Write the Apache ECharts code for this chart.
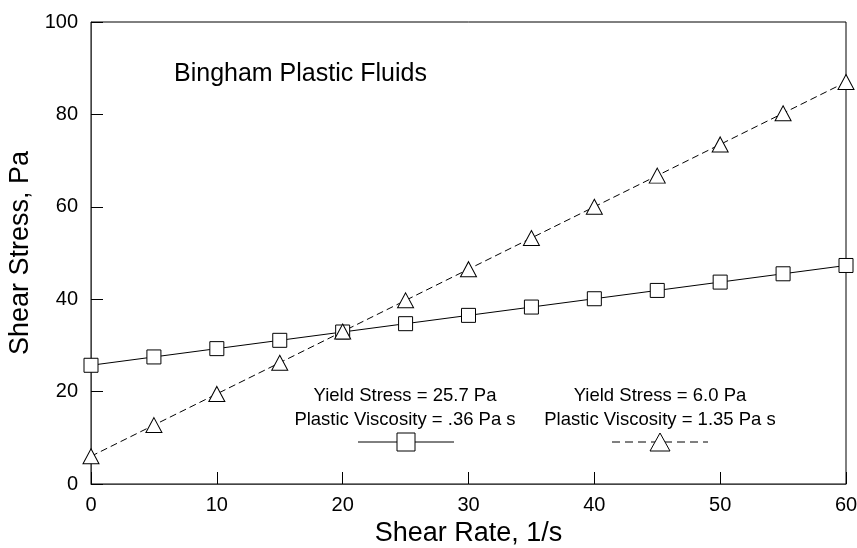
<!DOCTYPE html>
<html><head><meta charset="utf-8">
<script src="https://cdn.jsdelivr.net/npm/echarts@6/dist/echarts.min.js"></script>
<style>html,body{margin:0;padding:0;background:#fff}#c{width:857px;height:548px}</style>
</head><body><div id="c"></div>
<script>
var shearRate = [0, 5, 10, 15, 20, 25, 30, 35, 40, 45, 50, 55, 60];
var stressSquare = [25.7, 27.5, 29.3, 31.1, 32.9, 34.7, 36.5, 38.3, 40.1, 41.9, 43.7, 45.5, 47.3];
var stressTriangle = [6.0, 12.75, 19.5, 26.25, 33.0, 39.75, 46.5, 53.25, 60.0, 66.75, 73.5, 80.25, 87.0];
var chartTitle = 'Bingham Plastic Fluids';
var legend1 = ['Yield Stress = 25.7 Pa', 'Plastic Viscosity = .36 Pa s'];
var legend2 = ['Yield Stress = 6.0 Pa', 'Plastic Viscosity = 1.35 Pa s'];
var xTitle = 'Shear Rate, 1/s';
var yTitle = 'Shear Stress, Pa';

function pairs(xs, ys){ return xs.map(function(x,i){return [x, ys[i]];}); }
var FONT = '"Liberation Sans", Arial, sans-serif';
var triPath = 'path://M0,-1L1,0.732L-1,0.732Z';

var chart = echarts.init(document.getElementById('c'));
chart.setOption({
  animation: false,
  grid: {left: 91, right: 11, top: 22, bottom: 64, outerBoundsMode: 'none', containLabel: false,
         show: true, borderColor: '#000', borderWidth: 1, backgroundColor: 'transparent'},
  xAxis: {
    type: 'value', min: 0, max: 60, interval: 10,
    name: xTitle, nameLocation: 'middle', nameGap: 35,
    nameTextStyle: {fontFamily: FONT, fontSize: 27, color: '#000'},
    axisLine: {show: true, lineStyle: {color: '#444', width: 1}},
    axisTick: {show: true, inside: true, length: 12, lineStyle: {color: '#000'}},
    axisLabel: {fontFamily: FONT, fontSize: 20, color: '#000', margin: 11},
    splitLine: {show: false}
  },
  yAxis: {
    type: 'value', min: 0, max: 100, interval: 20,
    name: yTitle, nameLocation: 'middle', nameGap: 54,
    nameTextStyle: {fontFamily: FONT, fontSize: 27, color: '#000'},
    axisLine: {show: true, lineStyle: {color: '#444', width: 1}},
    axisTick: {show: true, inside: true, length: 12, lineStyle: {color: '#000'}},
    axisLabel: {fontFamily: FONT, fontSize: 20, color: '#000', margin: 13},
    splitLine: {show: false}
  },
  series: [
    {
      type: 'line', data: pairs(shearRate, stressSquare),
      symbol: 'rect', symbolSize: 14, showSymbol: true,
      lineStyle: {color: '#000', width: 1},
      itemStyle: {color: '#fff', borderColor: '#000', borderWidth: 1},
      z: 3
    },
    {
      type: 'line', data: pairs(shearRate, stressTriangle),
      symbol: triPath, symbolSize: [16, 15], showSymbol: true,
      lineStyle: {color: '#000', width: 1, type: [7, 4]},
      itemStyle: {color: '#fff', borderColor: '#000', borderWidth: 1},
      z: 3
    }
  ],
  graphic: [
    {type: 'text', x: 174, y: 74, style: {text: chartTitle, font: '25px ' + FONT, fill: '#000', verticalAlign: 'middle'}},
    {type: 'text', x: 405, y: 396, style: {text: legend1[0], font: '18.5px ' + FONT, fill: '#000', align: 'center', verticalAlign: 'middle'}},
    {type: 'text', x: 405, y: 420, style: {text: legend1[1], font: '18.5px ' + FONT, fill: '#000', align: 'center', verticalAlign: 'middle'}},
    {type: 'line', shape: {x1: 358, y1: 442, x2: 454, y2: 442}, style: {stroke: '#000', lineWidth: 1}},
    {type: 'rect', shape: {x: 397, y: 433, width: 18, height: 18}, style: {fill: '#fff', stroke: '#000', lineWidth: 1}},
    {type: 'text', x: 660, y: 396, style: {text: legend2[0], font: '18.5px ' + FONT, fill: '#000', align: 'center', verticalAlign: 'middle'}},
    {type: 'text', x: 660, y: 420, style: {text: legend2[1], font: '18.5px ' + FONT, fill: '#000', align: 'center', verticalAlign: 'middle'}},
    {type: 'line', shape: {x1: 612, y1: 442, x2: 708, y2: 442}, style: {stroke: '#000', lineWidth: 1, lineDash: [8, 5]}},
    {type: 'polygon', shape: {points: [[660, 433], [670, 451], [650, 451]]}, style: {fill: '#fff', stroke: '#000', lineWidth: 1}}
  ]
});
</script>
</body></html>
